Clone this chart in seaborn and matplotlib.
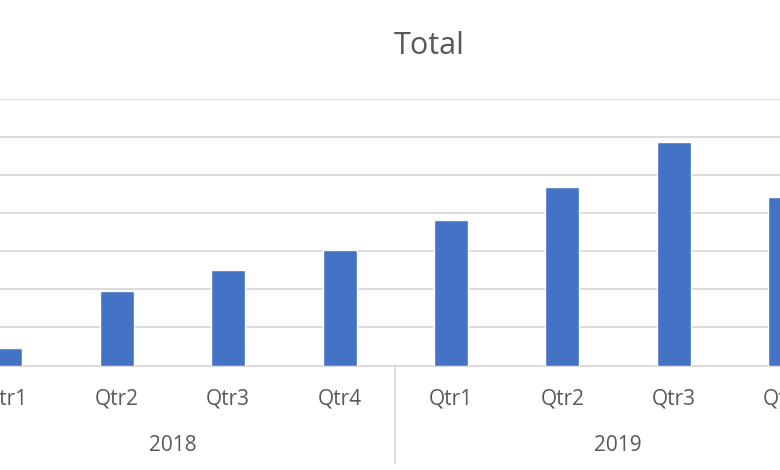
import pandas as pd
import matplotlib
matplotlib.use("Agg")
import matplotlib.pyplot as plt
import seaborn as sns

years = ["2018", "2019"]
quarters = ["Qtr1", "Qtr2", "Qtr3", "Qtr4"]
totals_2018 = [0.47, 1.97, 2.52, 3.04]
totals_2019 = [3.83, 4.68, 5.88, 4.44]

rows = []
for yr, vals in zip(years, [totals_2018, totals_2019]):
    for q, v in zip(quarters, vals):
        rows.append({"period": yr + " " + q, "quarter": q, "year": yr, "total": v})
df = pd.DataFrame(rows)

sns.set_theme(style="white")
plt.rcParams["font.family"] = ["Open Sans", "DejaVu Sans"]
grey = "#595959"
grid_c = "#d9d9d9"

fig = plt.figure(figsize=(7.8, 4.7), dpi=100)
ax = fig.add_axes([0, 0.2223, 1, 0.5667])

sns.barplot(data=df, x="period", y="total", color="#4472C4", width=0.305,
            saturation=1, ax=ax, zorder=3)

ax.set_xlim(-0.048, 6.954)
ax.set_ylim(0, 7)
ax.set_yticks(range(0, 8))
ax.yaxis.grid(True, color=grid_c, linewidth=1.3, zorder=0)
ax.set_yticklabels([])
ax.tick_params(axis="y", length=0)
for s in ["left", "right", "top"]:
    ax.spines[s].set_visible(False)
ax.spines["bottom"].set_color(grid_c)
ax.spines["bottom"].set_linewidth(1.3)
ax.set_xlabel("")
ax.set_ylabel("")
ax.set_xticks([])

# quarter labels
for i, q in enumerate(df["quarter"]):
    ax.text(i, -0.1258, q, transform=ax.get_xaxis_transform(), ha="center",
            va="center", fontsize=15, color=grey, clip_on=False)

# year labels and separators
for j, yr in enumerate(years):
    ax.text(j * 4 + 1.5, -0.2985, yr, transform=ax.get_xaxis_transform(),
            ha="center", va="center", fontsize=15, color=grey, clip_on=False)
for xs in [-0.5, 3.5, 7.5]:
    ax.plot([xs, xs], [0, -0.366], transform=ax.get_xaxis_transform(),
            color=grid_c, linewidth=1.3, clip_on=False)

fig.text(0.5506, 0.902, "Total", ha="center", va="center", fontsize=22,
         color=grey)

fig.savefig("out.png", dpi=100)
